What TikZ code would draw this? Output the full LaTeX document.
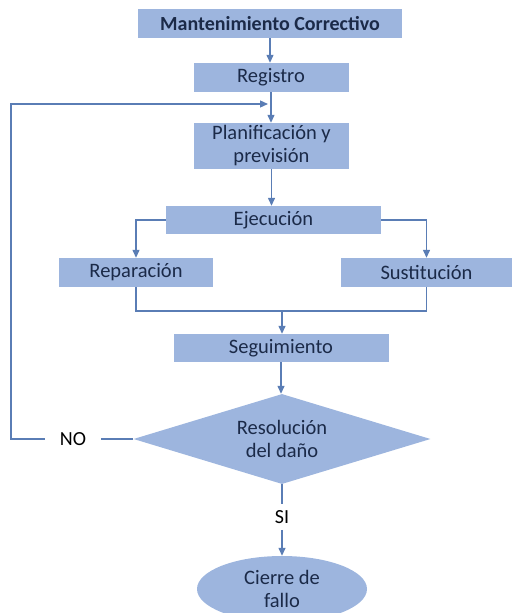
\documentclass[tikz,border=0pt]{standalone}
\usepackage{fontspec}
\setmainfont{Carlito}
\usetikzlibrary{arrows.meta,shapes.geometric}
\definecolor{boxfill}{HTML}{9DB5DE}
\definecolor{linecol}{HTML}{5A7DB5}
\definecolor{txtcol}{HTML}{1B2A48}
\tikzset{
  paso/.style={fill=boxfill,text=txtcol,inner sep=0pt,align=center,
    font=\fontsize{20.5}{23}\selectfont},
  conn/.style={draw=linecol,line width=1.3pt},
  flecha/.style={conn,-{Triangle[length=8pt,width=7pt]}},
  rotulo/.style={fill=white,text=black,inner xsep=15pt,inner ysep=6pt,
    font=\fontsize{20}{22}\selectfont}
}
\begin{document}
\begin{tikzpicture}[x=1pt,y=-1pt]
    \useasboundingbox (0,0) rectangle (516,613);
    \node[paso,minimum width=264,minimum height=29,font=\fontsize{20}{22}\selectfont\bfseries]
      (mant) at (270,23.5) {Mantenimiento Correctivo};
    \node[paso,minimum width=155,minimum height=29] (reg) at (271,77.5) {Registro};
    \node[paso,minimum width=155,minimum height=46] (plan) at (271.5,146)
      {Planificación y\\previsión};
    \node[paso,minimum width=215,minimum height=28] (ejec) at (273.5,220) {Ejecución};
    \node[paso,minimum width=154,minimum height=29] (rep) at (136,272.5) {Reparación};
    \node[paso,minimum width=171,minimum height=29] (sust) at (426.5,272.5) {Sustitución};
    \node[paso,minimum width=215,minimum height=28] (seg) at (281,348) {Seguimiento};
    \node[paso,diamond,aspect=3.3,minimum width=297,minimum height=90] (res) at (282,439)
      {Resolución\\del daño};
    \node[paso,ellipse,minimum width=170,minimum height=66] (cierre) at (282,589)
      {Cierre de\\fallo};
    \node[rotulo] (no) at (73,439) {NO};
    \node[rotulo] (si) at (282,517) {SI};
    \coordinate (vuelta) at (11,439);
    \coordinate (entrada) at (268,104);
    \coordinate (union) at (282,311);
    \foreach \a/\b in {mant/reg,reg/plan,plan/ejec,seg/res}
      \draw[flecha] (\a.south) -- (\a.south |- \b.north);
    \draw[flecha] (ejec.west) -| (rep.north);
    \draw[flecha] (ejec.east) -| (sust.north);
    \draw[conn] (rep.south) |- (union) -| (sust.south);
    \draw[flecha] (union) -- (union |- seg.north);
    \draw[conn] (res.west) -- (no);
    \draw[flecha] (no) -- (vuelta) |- (entrada);
    \draw[conn] (res.south) -- (si);
    \draw[flecha] (si) -- (cierre.north);
  \end{tikzpicture}
\end{document}
